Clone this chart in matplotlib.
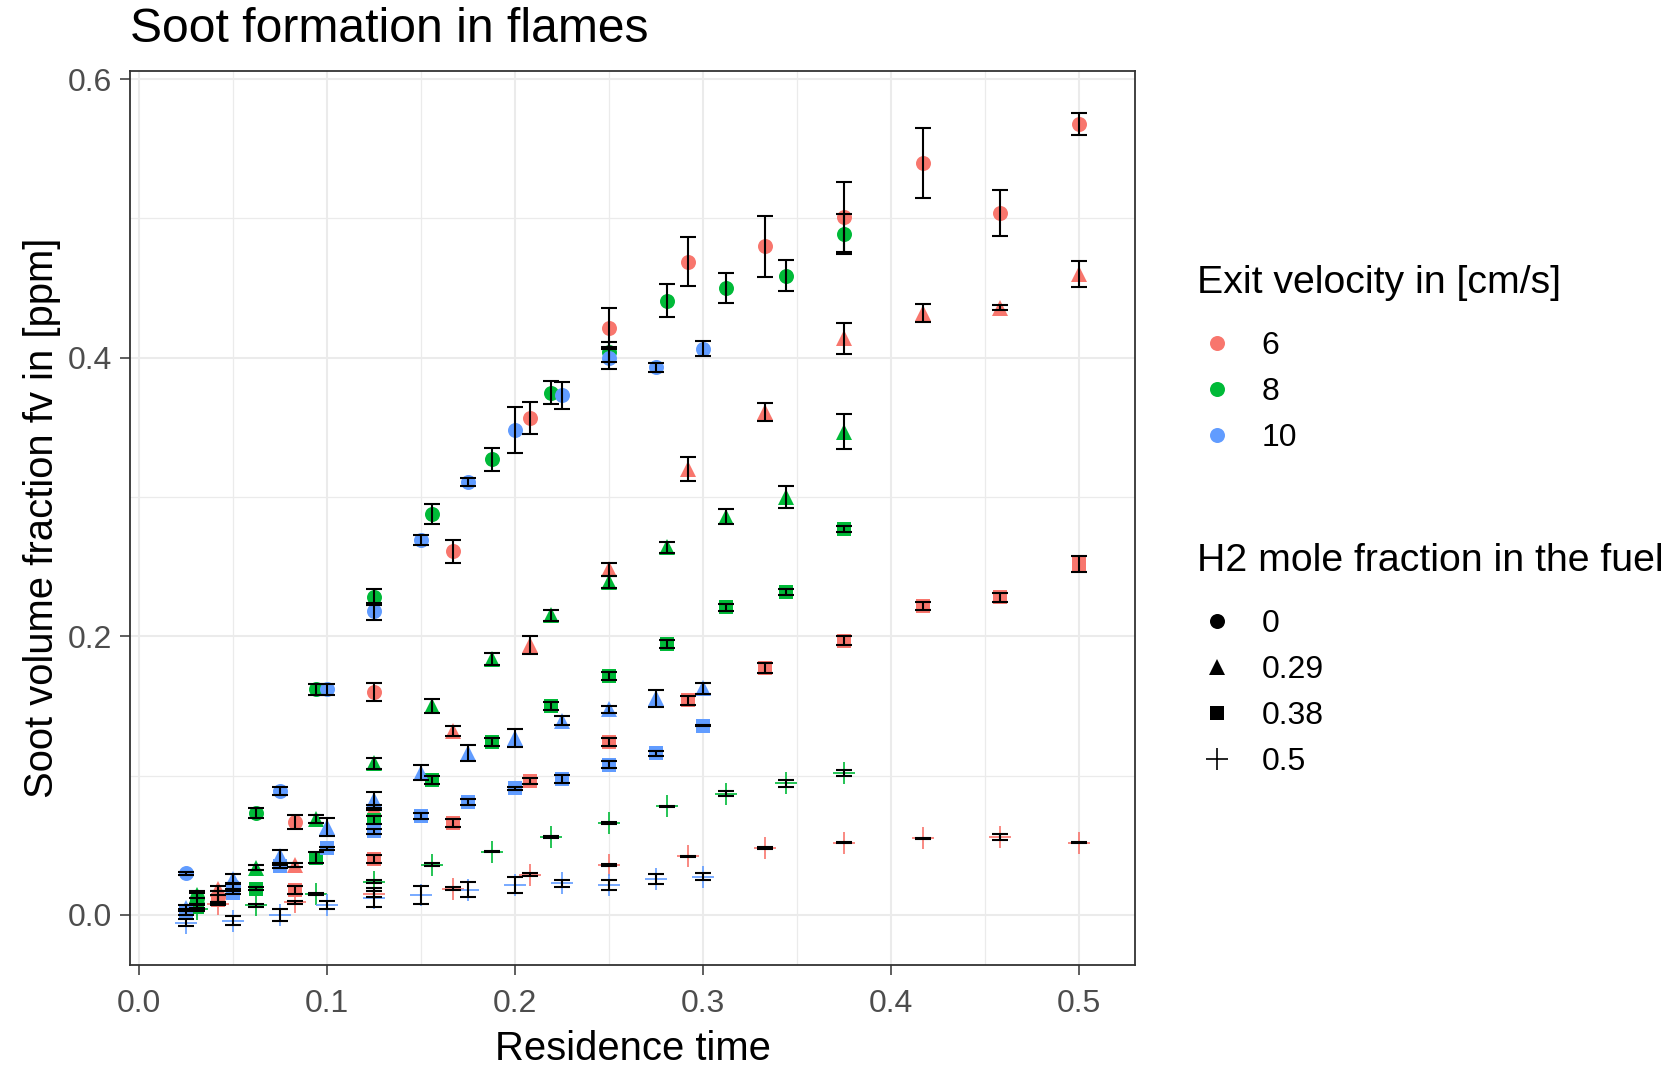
import matplotlib
matplotlib.use("Agg")
import matplotlib.pyplot as plt
from matplotlib.lines import Line2D
from matplotlib.ticker import MultipleLocator, FormatStrFormatter

plt.rcParams['font.family'] = ['Liberation Sans', 'DejaVu Sans']

# residence time at each measuring height, per exit velocity
time_v6 = [0.042, 0.083, 0.125, 0.167, 0.208, 0.250, 0.292, 0.333, 0.375, 0.417, 0.458, 0.500]
time_v8 = [0.031, 0.062, 0.094, 0.125, 0.156, 0.188, 0.219, 0.250, 0.281, 0.312, 0.344, 0.375]
time_v10 = [0.025, 0.050, 0.075, 0.100, 0.125, 0.150, 0.175, 0.200, 0.225, 0.250, 0.275, 0.300]

# soot volume fraction [ppm] and its error, v = 6 cm/s
fv_v6_h0 = [0.013, 0.067, 0.160, 0.261, 0.357, 0.421, 0.469, 0.480, 0.501, 0.540, 0.504, 0.568]
err_v6_h0 = [0.004, 0.005, 0.0066, 0.008, 0.0115, 0.015, 0.0175, 0.022, 0.025, 0.025, 0.0165, 0.008]
fv_v6_h29 = [0.019, 0.036, 0.077, 0.132, 0.194, 0.248, 0.320, 0.361, 0.414, 0.432, 0.436, 0.460]
err_v6_h29 = [0.002, 0.0015, 0.002, 0.0036, 0.0066, 0.0045, 0.0087, 0.0064, 0.011, 0.0064, 0.002, 0.0095]
fv_v6_h38 = [0.011, 0.018, 0.040, 0.066, 0.096, 0.124, 0.154, 0.177, 0.197, 0.222, 0.228, 0.252]
err_v6_h38 = [0.003, 0.0026, 0.003, 0.003, 0.002, 0.003, 0.003, 0.0036, 0.003, 0.003, 0.003, 0.006]
fv_v6_h50 = [0.008, 0.009, 0.015, 0.019, 0.029, 0.036, 0.042, 0.048, 0.052, 0.055, 0.056, 0.052]
err_v6_h50 = [0.001, 0.001, 0.002, 0.001, 0.001, 0.0005, 0.0005, 0.0005, 0.0005, 0.0005, 0.002, 0.0005]

# v = 8 cm/s
fv_v8_h0 = [0.012, 0.073, 0.162, 0.228, 0.288, 0.327, 0.375, 0.404, 0.441, 0.450, 0.459, 0.489]
err_v8_h0 = [0.005, 0.0036, 0.004, 0.0058, 0.0072, 0.0085, 0.0083, 0.007, 0.012, 0.0107, 0.011, 0.0145]
fv_v8_h29 = [0.014, 0.034, 0.069, 0.109, 0.150, 0.184, 0.215, 0.239, 0.264, 0.286, 0.300, 0.347]
err_v8_h29 = [0.002, 0.002, 0.003, 0.004, 0.005, 0.0044, 0.004, 0.0043, 0.004, 0.0056, 0.0078, 0.0128]
fv_v8_h38 = [0.006, 0.019, 0.041, 0.068, 0.097, 0.124, 0.150, 0.1715, 0.1945, 0.221, 0.232, 0.277]
err_v8_h38 = [0.002, 0.001, 0.004, 0.003, 0.003, 0.003, 0.0026, 0.003, 0.003, 0.0025, 0.002, 0.002]
fv_v8_h50 = [0.004, 0.007, 0.015, 0.024, 0.036, 0.0455, 0.056, 0.066, 0.078, 0.087, 0.0945, 0.102]
err_v8_h50 = [0.001, 0.001, 0.0005, 0.001, 0.001, 0.0005, 0.0005, 0.0005, 0.0005, 0.0017, 0.0024, 0.002]

# v = 10 cm/s
fv_v10_h0 = [0.030, 0.021, 0.089, 0.162, 0.218, 0.269, 0.311, 0.348, 0.373, 0.400, 0.393, 0.4065]
err_v10_h0 = [0.001, 0.002, 0.003, 0.004, 0.006, 0.0036, 0.003, 0.0165, 0.0096, 0.008, 0.0035, 0.0056]
fv_v10_h29 = [0.005, 0.026, 0.042, 0.063, 0.0825, 0.102, 0.116, 0.127, 0.1395, 0.1476, 0.1555, 0.1627]
err_v10_h29 = [0.002, 0.0036, 0.0048, 0.0064, 0.006, 0.0054, 0.0057, 0.0066, 0.003, 0.0026, 0.006, 0.004]
fv_v10_h38 = [0.002, 0.016, 0.035, 0.048, 0.060, 0.071, 0.081, 0.091, 0.0976, 0.108, 0.116, 0.136]
err_v10_h38 = [0.002, 0.001, 0.001, 0.001, 0.002, 0.002, 0.002, 0.001, 0.0026, 0.0027, 0.002, 0.0005]
fv_v10_h50 = [-0.0055, -0.004, 0.000, 0.007, 0.0125, 0.0144, 0.018, 0.0215, 0.0227, 0.0215, 0.0256, 0.0275]
err_v10_h50 = [0.0025, 0.003, 0.0045, 0.003, 0.007, 0.0066, 0.0054, 0.006, 0.0026, 0.0036, 0.0036, 0.0024]

velocities = [6, 8, 10]
h2_labels = ["0", "0.29", "0.38", "0.5"]

colors = {6: "#F8766D", 8: "#00BA38", 10: "#619CFF"}
shapes = {"0": ("o", 10.8), "0.29": ("^", 11.5), "0.38": ("s", 9.5), "0.5": ("+", 16)}

series = [
    (6, "0", time_v6, fv_v6_h0, err_v6_h0),
    (6, "0.29", time_v6, fv_v6_h29, err_v6_h29),
    (6, "0.38", time_v6, fv_v6_h38, err_v6_h38),
    (6, "0.5", time_v6, fv_v6_h50, err_v6_h50),
    (8, "0", time_v8, fv_v8_h0, err_v8_h0),
    (8, "0.29", time_v8, fv_v8_h29, err_v8_h29),
    (8, "0.38", time_v8, fv_v8_h38, err_v8_h38),
    (8, "0.5", time_v8, fv_v8_h50, err_v8_h50),
    (10, "0", time_v10, fv_v10_h0, err_v10_h0),
    (10, "0.29", time_v10, fv_v10_h29, err_v10_h29),
    (10, "0.38", time_v10, fv_v10_h38, err_v10_h38),
    (10, "0.5", time_v10, fv_v10_h50, err_v10_h50),
]

W, H = 1677, 1065
fig = plt.figure(figsize=(W / 100, H / 100), dpi=100)
ax = fig.add_axes([130 / W, 1 - 965 / H, (1135 - 130) / W, (965 - 71) / H])

# points first, error bars on top
for v, h2, t, fv, err in series:
    m, ms = shapes[h2]
    if m == "+":
        ax.plot(t, fv, ls="none", marker=m, ms=ms, mew=1.2, color=colors[v], zorder=3)
    else:
        ax.plot(t, fv, ls="none", marker=m, ms=ms, mew=0, color=colors[v], zorder=3)
for v, h2, t, fv, err in series:
    ax.errorbar(t, fv, yerr=err, fmt="none", ecolor="black", elinewidth=1.5,
                capsize=6.1, capthick=1.5, zorder=4)

ax.set_xlim(-0.0048, 0.5298)
ax.set_ylim(-0.0359, 0.6058)
ax.xaxis.set_major_locator(MultipleLocator(0.1))
ax.xaxis.set_minor_locator(MultipleLocator(0.05))
ax.yaxis.set_major_locator(MultipleLocator(0.2))
ax.yaxis.set_minor_locator(MultipleLocator(0.1))
ax.xaxis.set_major_formatter(FormatStrFormatter("%.1f"))
ax.yaxis.set_major_formatter(FormatStrFormatter("%.1f"))

ax.grid(which="major", color="#EBEBEB", lw=1.5, zorder=0)
ax.grid(which="minor", color="#EBEBEB", lw=0.9, zorder=0)
ax.set_axisbelow(True)
for s in ax.spines.values():
    s.set_color("#333333")
    s.set_linewidth(1.3)
ax.tick_params(which="major", length=7, width=1.1, color="#333333",
               labelsize=23, labelcolor="#4D4D4D", pad=6)
ax.tick_params(axis="x", which="major", pad=10.5)
ax.tick_params(which="minor", length=0)

ax.set_xlabel("Residence time", fontsize=28.8, va="center")
ax.xaxis.set_label_coords(0.5, (965 - 1049) / (965 - 71))
ax.set_ylabel("Soot volume fraction fv in [ppm]", fontsize=28.8, va="center")
ax.yaxis.set_label_coords((42 - 130) / (1135 - 130), 0.5)

fig.text(130 / W, 1 - 30 / H, "Soot formation in flames", fontsize=34.6, va="center", ha="left")

# legends
fig.text(1197 / W, 1 - 283 / H, "Exit velocity in [cm/s]", fontsize=28.3, va="center", ha="left")
vel_handles = [Line2D([], [], ls="none", marker="o", ms=10.8, mew=0, color=colors[v]) for v in velocities]
fig.legend(vel_handles, [str(v) for v in velocities], loc="center left",
           bbox_to_anchor=(1197 / W, 1 - 392 / H), frameon=False, fontsize=23,
           borderpad=0, borderaxespad=0, handlelength=1.25, handletextpad=0.77,
           labelspacing=0.5)

fig.text(1197 / W, 1 - 561 / H, "H2 mole fraction in the fuel", fontsize=28.3, va="center", ha="left")
h2_handles = []
for h2 in h2_labels:
    m, ms = shapes[h2]
    h2_handles.append(Line2D([], [], ls="none", marker=m, ms=ms,
                             mew=1.2 if m == "+" else 0, color="black"))
fig.legend(h2_handles, h2_labels, loc="center left",
           bbox_to_anchor=(1197 / W, 1 - 693 / H), frameon=False, fontsize=23,
           borderpad=0, borderaxespad=0, handlelength=1.25, handletextpad=0.77,
           labelspacing=0.5)

fig.savefig("out.png", dpi=100)
